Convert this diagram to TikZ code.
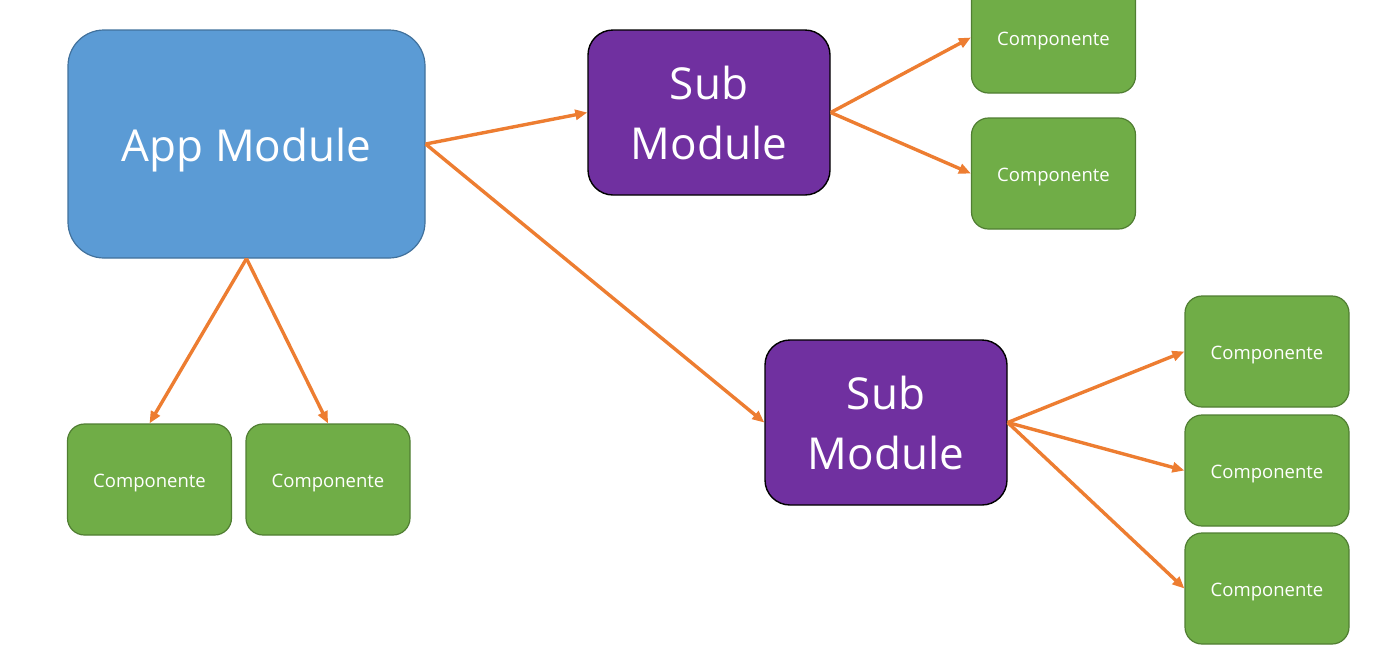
\documentclass[tikz,border=0pt]{standalone}
\usepackage{fontspec}
\setmainfont{Open Sans}
\usetikzlibrary{arrows.meta}
\definecolor{appblue}{HTML}{5B9BD5}
\definecolor{appborder}{HTML}{41719C}
\definecolor{subpurple}{HTML}{7030A0}
\definecolor{compgreen}{HTML}{70AD47}
\definecolor{compborder}{HTML}{507E32}
\definecolor{arroworange}{HTML}{ED7D31}
\newcommand\lowered[2]{\raisebox{-#1}[\height][\depth]{#2}}
\tikzset{
  appbox/.style={draw=appborder, fill=appblue, line width=1.2pt, rounded corners=36pt,
    minimum width=357pt, minimum height=228pt, inner sep=0pt, text=white,
    font=\fontsize{44pt}{52pt}\selectfont},
  subbox/.style={draw=black, fill=subpurple, line width=1.4pt, rounded corners=25pt,
    minimum width=242pt, minimum height=165pt, inner sep=0pt, text=white, align=center,
    font=\fontsize{44pt}{60pt}\selectfont},
  compbox/.style={draw=compborder, fill=compgreen, line width=1.2pt, rounded corners=17pt,
    minimum width=164pt, minimum height=111pt, inner sep=0pt, text=white,
    font=\fontsize{18.5pt}{22pt}\selectfont},
  conn/.style={draw=arroworange, line width=3.4pt,
    -{Triangle[length=12pt,width=10pt]}}
}
\begin{document}
\begin{tikzpicture}[x=1pt,y=-1pt]
\useasboundingbox (0,0) rectangle (1400,654);
\clip (0,0) rectangle (1400,654);
\node[appbox] (app) at (246.5,144) {\lowered{6pt}{App Module}};
\node[subbox] (sub1) at (709,112.5) {Sub\\Module};
\node[subbox] (sub2) at (886,422.5) {Sub\\Module};
\node[compbox] (c1) at (1053.5,37.5) {\lowered{4pt}{Componente}};
\node[compbox] (c2) at (1053.5,173.5) {\lowered{4pt}{Componente}};
\node[compbox] (c3) at (1267,351.5) {\lowered{4pt}{Componente}};
\node[compbox] (c4) at (1267,470.5) {\lowered{4pt}{Componente}};
\node[compbox] (c5) at (1267,588.5) {\lowered{4pt}{Componente}};
\node[compbox] (c6) at (149.5,479.5) {\lowered{4pt}{Componente}};
\node[compbox] (c7) at (328,479.5) {\lowered{4pt}{Componente}};
\draw[conn] (app.east) -- (sub1.west);
\draw[conn] (app.east) -- (sub2.west);
\draw[conn] (app.south) -- (c6.north);
\draw[conn] (app.south) -- (c7.north);
\draw[conn] (sub1.east) -- (c1.west);
\draw[conn] (sub1.east) -- (c2.west);
\draw[conn] (sub2.east) -- (c3.west);
\draw[conn] (sub2.east) -- (c4.west);
\draw[conn] (sub2.east) -- (c5.west);
\end{tikzpicture}
\end{document}
